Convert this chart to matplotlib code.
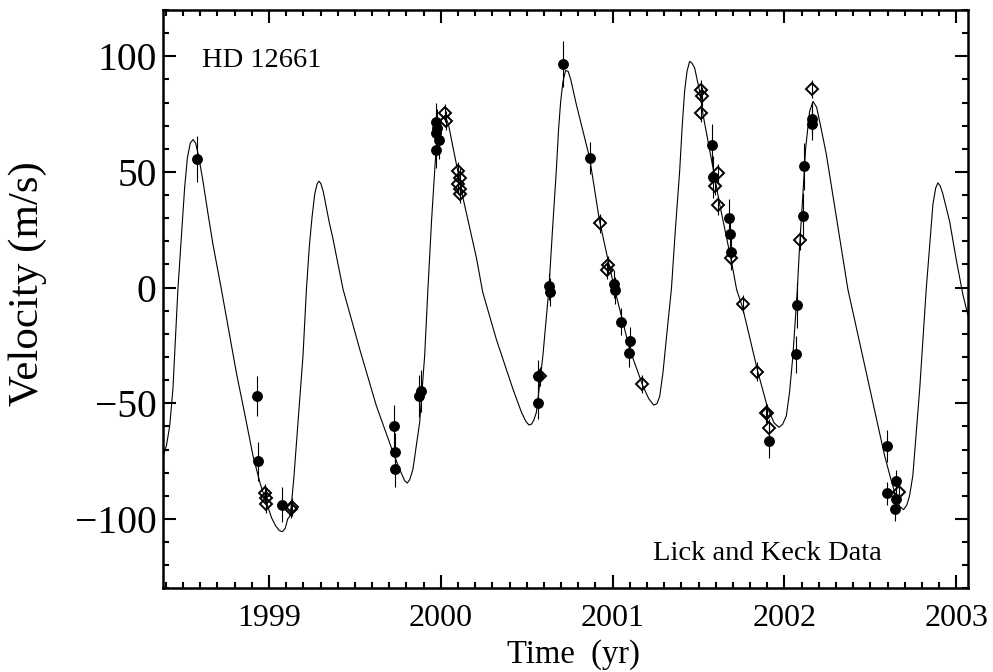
import matplotlib
matplotlib.use('Agg')
import matplotlib.pyplot as plt
from matplotlib.ticker import MultipleLocator, FormatStrFormatter

plt.rcParams['font.family'] = ['Liberation Serif', 'DejaVu Serif']

# Lick data (filled circles): time [yr], velocity [m/s], error [m/s]
lick_t = [1998.583, 1998.933, 1998.936, 1999.078, 1999.727, 1999.731, 1999.731,
          1999.873, 1999.883, 1999.974, 1999.976, 1999.974, 1999.989, 1999.970,
          2000.565, 2000.565, 2000.629, 2000.633, 2000.711, 2000.866,
          2001.008, 2001.013, 2001.047, 2001.099, 2001.095,
          2001.580, 2001.584, 2001.677, 2001.685, 2001.687, 2001.908,
          2002.065, 2002.075, 2002.107, 2002.111, 2002.162, 2002.162,
          2002.596, 2002.599, 2002.651, 2002.651, 2002.641]
lick_v = [55.7, -46.8, -75.1, -93.8, -59.7, -71.0, -78.4,
          -46.8, -44.6, 71.6, 69.0, 66.9, 63.6, 59.7,
          -38.4, -49.9, 0.5, -2.0, 96.8, 56.1,
          1.7, -1.2, -14.7, -23.0, -28.4,
          61.8, 47.9, 30.2, 23.0, 15.4, -66.5,
          -28.8, -7.5, 30.8, 52.4, 73.1, 70.8,
          -68.4, -88.9, -83.7, -91.4, -95.7]
lick_err = [10, 8.5, 8.5, 7.5, 9, 8, 8,
            9, 9, 8, 8, 8, 8, 8,
            7, 7, 6, 6, 10, 7,
            6, 6, 6, 6, 6,
            9, 9, 8, 8, 8, 7,
            8, 10, 10, 10, 7, 7,
            7, 5, 5, 5, 5]

# Keck data (open diamonds)
keck_t = [1998.975, 1998.981, 1998.981, 1999.130, 1999.136,
          2000.022, 2000.028, 2000.100, 2000.114, 2000.100, 2000.110, 2000.114,
          2000.575, 2000.928, 2000.973, 2000.969, 2001.171,
          2001.516, 2001.521, 2001.516, 2001.613, 2001.594, 2001.613, 2001.691,
          2001.758, 2001.842, 2001.890, 2001.900, 2001.910,
          2002.088, 2002.162, 2002.666]
keck_v = [-88.8, -91.1, -93.5, -95.7, -94.8,
          75.5, 72.2, 50.3, 47.5, 44.9, 42.5, 40.6,
          -38.4, 27.8, 9.6, 7.6, -41.6,
          85.6, 82.7, 75.5, 49.6, 43.9, 35.5, 12.6,
          -7.0, -36.3, -54.4, -54.4, -60.9,
          20.4, 85.9, -88.5]
keck_err = [4] * len(keck_t)

# fitted orbit curve
fit_t = [1998.383, 1998.403, 1998.422, 1998.441, 1998.457, 1998.470, 1998.490,
         1998.509, 1998.525, 1998.542, 1998.558, 1998.573, 1998.590, 1998.616,
         1998.645, 1998.674, 1998.723, 1998.810, 1998.860, 1998.907, 1998.950,
         1998.985, 1999.015, 1999.039, 1999.060, 1999.078, 1999.095, 1999.109,
         1999.120, 1999.130, 1999.145, 1999.169, 1999.198, 1999.218, 1999.235,
         1999.250, 1999.266, 1999.280, 1999.291, 1999.302, 1999.316, 1999.333,
         1999.350, 1999.371, 1999.431, 1999.528, 1999.625, 1999.722, 1999.760,
         1999.790, 1999.805, 1999.819, 1999.830, 1999.838, 1999.877, 1999.906,
         1999.925, 1999.947, 1999.970, 1999.985, 2000.000, 2000.017, 2000.032,
         2000.046, 2000.070, 2000.100, 2000.129, 2000.207, 2000.244, 2000.323,
         2000.420, 2000.470, 2000.495, 2000.513, 2000.528, 2000.540, 2000.556,
         2000.575, 2000.594, 2000.629, 2000.650, 2000.672, 2000.685, 2000.697,
         2000.711, 2000.726, 2000.741, 2000.756, 2000.789, 2000.866, 2000.924,
         2000.983, 2001.012, 2001.099, 2001.176, 2001.210, 2001.239, 2001.258,
         2001.274, 2001.293, 2001.322, 2001.342, 2001.365, 2001.390, 2001.405,
         2001.419, 2001.433, 2001.448, 2001.462, 2001.477, 2001.506, 2001.526,
         2001.584, 2001.623, 2001.691, 2001.722, 2001.756, 2001.846, 2001.904,
         2001.940, 2001.968, 2001.990, 2002.011, 2002.030, 2002.049, 2002.075,
         2002.088, 2002.107, 2002.123, 2002.146, 2002.166, 2002.187, 2002.210,
         2002.244, 2002.321, 2002.369, 2002.476, 2002.583, 2002.620, 2002.647,
         2002.670, 2002.693, 2002.712, 2002.728, 2002.747, 2002.787, 2002.825,
         2002.864, 2002.880, 2002.893, 2002.906, 2002.920, 2002.961, 2003.000,
         2003.038, 2003.068]
fit_v = [-73, -68.4, -60, -43.9, -20, -0.7, 21.6,
         43, 56, 62.5, 64, 62.5, 57, 46,
         32, 18.7, -0.7, -36.7, -55, -72.7, -85,
         -92.8, -99.5, -103, -105, -105.5, -104, -100,
         -99, -94.3, -82, -58.3, -29.5, -0.7, 18,
         30, 40.3, 44.8, 46, 45, 41.5, 35,
         28.5, 21.6, -0.7, -26.6, -51.1, -71.2, -78.5,
         -83.5, -84.5, -83, -80.5, -78.4, -58.3, -29.5,
         -0.7, 30, 57, 67, 72.5, 74, 73,
         70, 61, 50, 38.8, 13, -2, -22.3,
         -43.9, -54, -57.8, -59.4, -59, -57.5, -54,
         -42, -29.5, -0.7, 25, 50.3, 68, 80,
         89, 93.8, 93.5, 90, 79.1, 56.1, 28.7,
         8.6, -0.7, -26.6, -42.5, -48, -50.8, -50.2,
         -47, -36.7, -15.1, -0.7, 25, 50.3, 70,
         85, 93.5, 97.8, 97, 95, 85, 74.8,
         51.8, 36, 11.5, -1, -8.5, -36.7, -52.5,
         -58.5, -60.4, -59, -55.4, -45, -29.5, -0.7,
         18, 40, 60, 76, 80.5, 78, 70,
         57.5, 21.6, -0.7, -36.7, -72.7, -83, -90,
         -94.5, -96, -94, -90, -81.3, -43.9, -0.7,
         36, 43, 45.3, 44, 41, 28.7, 12,
         -2.9, -12]

fig = plt.figure(figsize=(9.93, 6.72), dpi=100)
ax = fig.add_axes([0.1641, 0.1245, 0.8107, 0.8606])

ax.plot(fit_t, fit_v, color='black', lw=0.8, zorder=2)

ax.errorbar(lick_t, lick_v, yerr=lick_err, fmt='o', color='black',
            ms=6.8, ecolor='black', elinewidth=0.8, capsize=0, zorder=3)
ax.errorbar(keck_t, keck_v, yerr=keck_err, fmt='D', mfc='none', mec='black',
            ms=6.5, mew=1.4, ecolor='black', elinewidth=0.8, capsize=0, zorder=4)

ax.set_xlim(1998.383, 2003.068)
ax.set_ylim(-130, 120)
ax.xaxis.set_major_locator(MultipleLocator(1))
ax.xaxis.set_minor_locator(MultipleLocator(0.1))
ax.yaxis.set_major_locator(MultipleLocator(50))
ax.yaxis.set_minor_locator(MultipleLocator(10))
ax.xaxis.set_major_formatter(FormatStrFormatter('%d'))

ax.tick_params(which='both', direction='in', top=True, right=True, width=1.5)
ax.tick_params(which='major', length=9.5)
ax.tick_params(which='minor', length=4.5)
ax.tick_params(axis='x', labelsize=23, pad=11)
ax.tick_params(axis='y', labelsize=28.5, pad=4.5)
for s in ax.spines.values():
    s.set_linewidth(1.8)

ax.text(0.048, 0.902, 'HD 12661', transform=ax.transAxes, fontsize=20.5,
        va='baseline', ha='left')
ax.text(0.609, 0.049, 'Lick and Keck Data', transform=ax.transAxes,
        fontsize=20.5, va='baseline', ha='left')

fig.text(0.5775, 0.013, 'Time  (yr)', fontsize=23.5, ha='center', va='baseline')
fig.text(0.028, 0.5774, 'Velocity (m/s)', fontsize=31, rotation=90,
         ha='center', va='center')

fig.savefig('out.png', dpi=100)
